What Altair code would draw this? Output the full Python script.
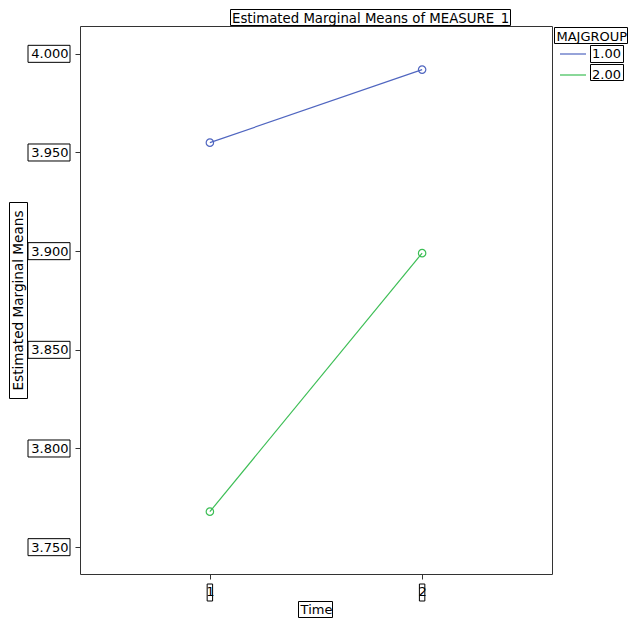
import altair as alt
import pandas as pd

# ---- data ----
time_points = [1, 2]
groups = ["1.00", "2.00"]
group1_means = [3.955, 3.992]
group2_means = [3.768, 3.899]
y_ticks = [3.750, 3.800, 3.850, 3.900, 3.950, 4.000]
x_ticks = [1, 2]
chart_title = "Estimated Marginal Means of MEASURE_1"

rows = []
for g, vals in zip(groups, [group1_means, group2_means]):
    for t, v in zip(time_points, vals):
        rows.append({"Time": t, "MAJGROUP": g, "Mean": v})
df = pd.DataFrame(rows)

FONT = "DejaVu Sans"
FS = 13

x_scale = alt.Scale(domain=[0.388, 2.612], nice=False, zero=False)
y_scale = alt.Scale(domain=[3.7364, 4.0141], nice=False, zero=False)
color_scale = alt.Scale(domain=groups, range=["#5066C0", "#3CBE55"])

x_axis = alt.Axis(values=x_ticks, format="d", title="Time", labelPadding=6, titlePadding=5.5)
y_axis = alt.Axis(values=y_ticks, format=".3f", title="Estimated Marginal Means",
                  labelPadding=7, titlePadding=5, titleFontSize=13.6)

def xenc():
    return alt.X("Time:Q", scale=x_scale, axis=x_axis)

def yenc():
    return alt.Y("Mean:Q", scale=y_scale, axis=y_axis)

legend = alt.Legend(orient="none", legendX=476.5, legendY=4.5, title="MAJGROUP",
                    symbolType="stroke", symbolSize=676, symbolStrokeWidth=1.2,
                    symbolOffset=2.5, labelOffset=5, rowPadding=-4, titlePadding=-3.5,
                    labelFont=FONT, labelFontSize=FS, titleFont=FONT, titleFontSize=FS,
                    titleFontWeight="normal", titleColor="black", labelColor="black")

base = alt.Chart(df)
lines = base.mark_line(strokeWidth=1.2).encode(
    x=xenc(), y=yenc(),
    color=alt.Color("MAJGROUP:N", scale=color_scale, legend=legend),
)
points = base.mark_point(filled=False, size=55, strokeWidth=1.2, opacity=1).encode(
    x=xenc(), y=yenc(),
    color=alt.Color("MAJGROUP:N", scale=color_scale, legend=None),
)

# boxes around tick labels (SPSS style)
ytick_df = pd.DataFrame({"Mean": y_ticks})
xtick_df = pd.DataFrame({"Time": x_ticks})
ybox = alt.Chart(ytick_df).mark_point(
    shape="M-1,-0.405L1,-0.405L1,0.405L-1,0.405Z", size=1764,
    filled=False, color="black", strokeWidth=1, opacity=1,
).encode(x=alt.value(-31), y=yenc())
xbox = alt.Chart(xtick_df).mark_point(
    shape="M-0.32,-1L0.32,-1L0.32,1L-0.32,1Z", size=289,
    filled=False, color="black", strokeWidth=1, opacity=1,
).encode(x=xenc(), y=alt.value(566.5))

one = pd.DataFrame({"k": [0]})

title_text = alt.Chart(one).mark_text(
    align="left", baseline="alphabetic", font=FONT, fontSize=13.3, color="black",
).encode(x=alt.value(152), y=alt.value(-3.5), text=alt.value(chart_title))

def frame_box(x0, x1, y0, y1):
    return alt.Chart(one).mark_rect(fillOpacity=0, stroke="black", strokeWidth=1).encode(
        x=alt.value(x0), x2=alt.value(x1), y=alt.value(y0), y2=alt.value(y1)
    )

boxes = [
    frame_box(150.5, 430.5, -16.5, -0.5),    # chart title
    frame_box(474.5, 547.5, 1.5, 17.5),      # legend title
    frame_box(510.5, 543.5, 19.5, 36.5),     # legend label 1
    frame_box(510.5, 543.5, 38.5, 54.5),     # legend label 2
    frame_box(-70.5, -52.5, 176.5, 372.5),   # y axis title
    frame_box(218.5, 252.5, 575.5, 591.5),   # x axis title
]

chart = alt.layer(lines, points, ybox, xbox, title_text, *boxes).properties(
    width=472, height=548,
    autosize=alt.AutoSizeParams(type="none"),
    padding={"left": 72, "top": 18, "right": 76, "bottom": 44},
    background="white",
).configure_axis(
    labelFont=FONT, labelFontSize=FS, labelColor="black",
    titleFont=FONT, titleFontSize=FS, titleFontWeight="normal", titleColor="black",
    tickColor="#333", tickSize=5, grid=False, domain=False,
).configure_view(stroke="#333", strokeWidth=1)

chart.save("out.html", embed_options={"renderer": "svg", "actions": False})
